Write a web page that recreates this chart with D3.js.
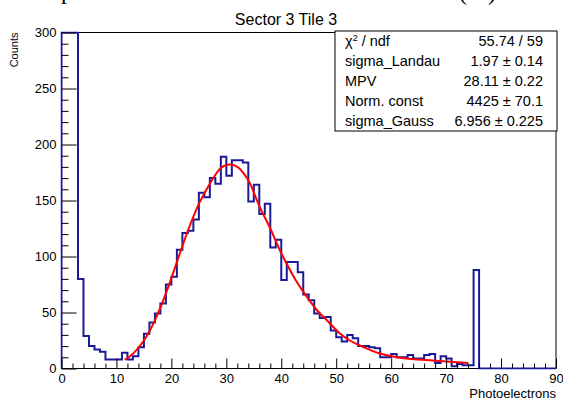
<!DOCTYPE html>
<html>
<head>
<meta charset="utf-8">
<script src="https://cdn.jsdelivr.net/npm/d3@7"></script>
<style>
  body { margin: 0; background: #fff; }
  svg { display: block; font-family: "Liberation Sans", Arial, sans-serif; }
</style>
</head>
<body>
<script>
// histogram contents, 1 photoelectron per bin from 0 to 90
const binLow = 0, binHigh = 90;
const counts = [
  1850, 720, 340, 80, 29, 20, 17, 15, 8, 8,
  8, 14, 8, 11, 19, 31, 41, 49, 58, 75,
  82, 106, 121, 123, 133, 157, 153, 170, 165, 189,
  172, 186, 186, 184, 149, 164, 138, 147, 108, 115,
  79, 95, 95, 86, 66, 61, 49, 45, 46, 34,
  28, 24, 30, 27, 20, 20, 19, 18, 10, 10,
  13, 10, 10, 12, 9, 9, 12, 13, 5, 11,
  9, 2, 4, 3, 3, 88, 0, 0, 0, 0,
  0, 0, 0, 0, 0, 0, 0, 0, 0, 0
];

// fit curve (Landau x Gauss)
const fitX = [11.5, 12.5, 15, 17, 19, 21, 23, 25, 27, 29, 30.3, 32, 34, 36, 38, 40, 42.5, 44.5, 46.5, 48.5, 50.5, 52.5, 55, 57.5, 61, 65, 69.5, 74];
const fitY = [8, 11, 25, 43, 67, 95, 123, 147, 165, 179, 182, 180, 168, 145, 125, 103, 80, 65, 52, 42, 32, 25, 19, 14, 10, 8, 6.5, 5];

const xTicks = [0, 10, 20, 30, 40, 50, 60, 70, 80, 90];
const yTicks = [0, 50, 100, 150, 200, 250, 300];

const statLabels = ["χ2 / ndf", "sigma_Landau", "MPV", "Norm. const", "sigma_Gauss"];
const statValues = ["55.74 / 59", "1.97 ± 0.14", "28.11 ± 0.22", "4425 ± 70.1", "6.956 ± 0.225"];

const W = 563, H = 403,
  margin = {top: 32.5, right: 7, bottom: 34.5, left: 61.5},
  innerW = W - margin.left - margin.right,
  innerH = H - margin.top - margin.bottom;

const svg = d3.select("body").append("svg")
  .attr("width", W)
  .attr("height", H);

// bits of the caption above, cut off by the crop
svg.append("text")
  .attr("x", 61).attr("y", -1.5)
  .style("font-family", "'Liberation Serif', serif")
  .style("font-size", "24px")
  .text("p");
svg.append("text")
  .attr("x", 459).attr("y", -0.5)
  .style("font-family", "'Liberation Serif', serif")
  .style("font-size", "24px")
  .text("(");
svg.append("text")
  .attr("x", 488).attr("y", -0.5)
  .style("font-family", "'Liberation Serif', serif")
  .style("font-size", "24px")
  .text(")");

const x = d3.scaleLinear().domain([binLow, binHigh]).range([0, innerW]);
const y = d3.scaleLinear().domain([0, 300]).range([innerH, 0]).clamp(true);

const g = svg.append("g")
  .attr("transform", `translate(${margin.left},${margin.top})`);

g.append("clipPath").attr("id", "frameClip")
  .append("rect")
  .attr("x", -1).attr("y", -1)
  .attr("width", innerW + 2).attr("height", innerH + 2);

// frame
g.append("rect")
  .attr("width", innerW)
  .attr("height", innerH)
  .attr("fill", "none")
  .attr("stroke", "#000")
  .attr("stroke-width", 1);

// histogram outline
const steps = [[binLow, 0]];
counts.forEach((c, i) => {
  steps.push([binLow + i, c]);
  steps.push([binLow + i + 1, c]);
});
steps.push([binHigh, 0]);

g.append("path")
  .datum(steps)
  .attr("clip-path", "url(#frameClip)")
  .attr("fill", "none")
  .attr("stroke", "#1a1a99")
  .attr("stroke-width", 2)
  .attr("d", d3.line().x(d => x(d[0])).y(d => y(d[1])));

// fit
g.append("path")
  .datum(fitX.map((v, i) => [v, fitY[i]]))
  .attr("fill", "none")
  .attr("stroke", "#ff0000")
  .attr("stroke-width", 2)
  .attr("d", d3.line().x(d => x(d[0])).y(d => y(d[1])).curve(d3.curveCatmullRom.alpha(0.5)));

// axes, ticks inside the frame
const xMinor = d3.range(binLow, binHigh + 0.01, 2).filter(v => v % 10 !== 0);
const yMinor = d3.range(0, 300.01, 10).filter(v => v % 50 !== 0);

const xAxis = g.append("g")
  .attr("transform", `translate(0,${innerH})`)
  .call(d3.axisBottom(x).tickValues(xTicks).tickSize(-10).tickPadding(5).tickFormat(d3.format("d")));
g.append("g")
  .attr("transform", `translate(0,${innerH})`)
  .call(d3.axisBottom(x).tickValues(xMinor).tickSize(-5).tickFormat(""));

const yAxis = g.append("g")
  .call(d3.axisLeft(y).tickValues(yTicks).tickSize(-15).tickPadding(5).tickFormat(d3.format("d")));
g.append("g")
  .call(d3.axisLeft(y).tickValues(yMinor).tickSize(-7).tickFormat(""));

g.selectAll(".domain").remove();
g.selectAll(".tick line").attr("stroke", "#000");
g.selectAll(".tick text")
  .attr("fill", "#000")
  .style("font-size", "13px")
  .style("font-family", "'Liberation Sans', Arial, sans-serif");

// axis titles
svg.append("text")
  .attr("x", margin.left + innerW)
  .attr("y", 398)
  .attr("text-anchor", "end")
  .style("font-size", "13px")
  .text("Photoelectrons");

svg.append("text")
  .attr("transform", `translate(18,${margin.top}) rotate(-90)`)
  .attr("text-anchor", "end")
  .style("font-size", "11px")
  .text("Counts");

// title
svg.append("text")
  .attr("x", 286)
  .attr("y", 25)
  .attr("text-anchor", "middle")
  .style("font-size", "16px")
  .text("Sector 3 Tile 3");

// stats box
const box = svg.append("g").attr("transform", "translate(335,31)");
const rowH = 20;
box.append("rect")
  .attr("width", 222)
  .attr("height", rowH * statLabels.length)
  .attr("fill", "#fff")
  .attr("stroke", "#000")
  .attr("stroke-width", 1);

statLabels.forEach((lab, i) => {
  const t = box.append("text")
    .attr("x", 10)
    .attr("y", rowH * i + 15)
    .style("font-size", "14.5px");
  if (lab.startsWith("χ2")) {
    t.append("tspan").text("χ");
    t.append("tspan").attr("dy", -5).style("font-size", "9px").text("2");
    t.append("tspan").attr("dy", 5).text(" / ndf");
  } else {
    t.text(lab);
  }
  box.append("text")
    .attr("x", 208)
    .attr("y", rowH * i + 15)
    .attr("text-anchor", "end")
    .style("font-size", "14.5px")
    .text(statValues[i]);
});
</script>
</body>
</html>
